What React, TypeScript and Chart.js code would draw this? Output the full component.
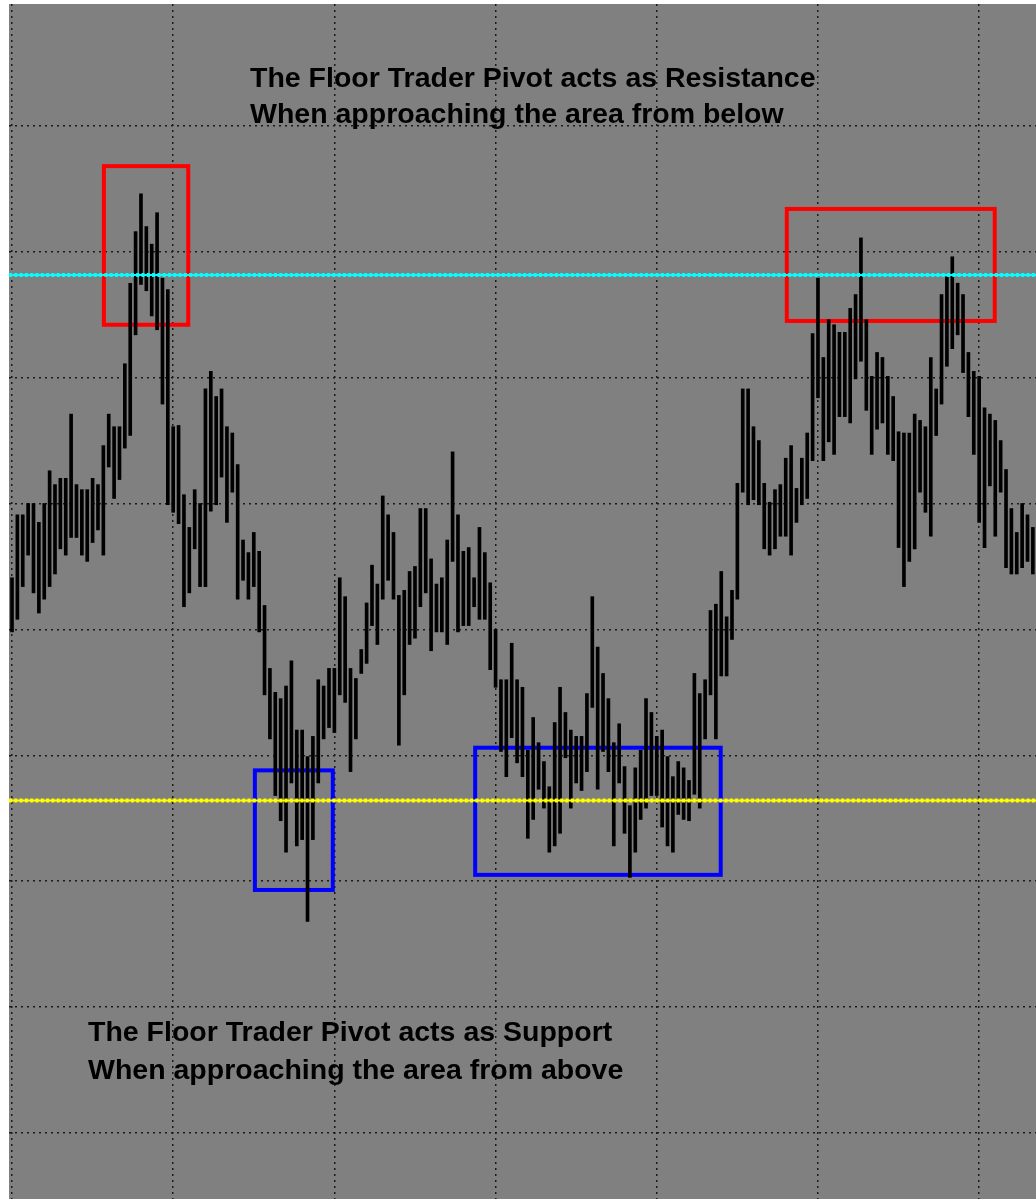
import React, { useEffect, useRef } from 'react';
import { Chart, registerables } from 'chart.js';

Chart.register(...registerables);

// ---- data (price units, grid every 10) ----
const barHighs = [
  54.1, 59.1, 59.1, 60.0, 60.0, 58.5, 60.0, 62.6, 61.5, 62.0,
  62.0, 67.1, 61.5, 61.1, 61.1, 62.0, 61.5, 64.6, 67.1, 66.1,
  66.1, 71.1, 77.5, 81.6, 84.6, 82.0, 80.6, 83.1, 77.9, 77.0,
  66.1, 66.2, 60.7, 58.1, 61.1, 60.0, 69.1, 70.5, 68.5, 69.1,
  66.1, 65.6, 63.1, 57.1, 56.1, 57.7, 56.2, 51.9, 46.9, 45.0,
  44.5, 45.5, 47.5, 42.0, 42.0, 39.9, 41.5, 46.0, 45.5, 46.9,
  46.9, 54.1, 52.6, 46.9, 46.1, 48.4, 52.1, 55.1, 53.6, 60.6,
  59.1, 57.7, 52.7, 53.1, 54.6, 55.0, 59.6, 59.6, 55.6, 53.6,
  54.1, 57.1, 64.1, 59.1, 56.2, 56.5, 54.1, 58.1, 56.1, 53.7,
  50.0, 46.0, 46.0, 48.9, 46.0, 45.4, 40.4, 43.0, 41.0, 39.5,
  37.5, 42.6, 45.4, 43.4, 42.0, 41.5, 41.5, 44.9, 52.6, 48.6,
  46.5, 44.5, 41.0, 42.5, 39.1, 36.0, 39.0, 40.4, 44.5, 43.4,
  41.5, 42.0, 39.9, 38.3, 39.5, 39.0, 38.0, 46.5, 44.9, 46.0,
  51.5, 52.0, 54.6, 51.0, 53.1, 61.6, 69.1, 69.1, 66.1, 65.0,
  61.6, 60.1, 61.1, 61.5, 63.6, 64.6, 61.2, 63.6, 65.6, 73.5,
  77.9, 71.6, 74.6, 74.2, 73.6, 73.6, 75.5, 76.6, 81.1, 74.6,
  70.1, 72.0, 71.6, 70.1, 68.5, 65.7, 65.6, 65.6, 67.1, 66.6,
  66.1, 71.6, 69.1, 76.6, 78.0, 79.6, 77.5, 76.6, 72.0, 70.5,
  70.1, 67.6, 67.1, 66.6, 65.0, 62.7, 59.6, 57.7, 60.0, 59.1,
  58.1,
];

const barLows = [
  49.8, 50.8, 53.4, 55.9, 52.9, 51.3, 52.4, 53.4, 54.4, 56.4,
  55.9, 57.3, 57.3, 55.9, 55.4, 56.9, 57.9, 55.9, 62.9, 60.4,
  61.9, 64.4, 65.4, 73.4, 77.4, 76.9, 74.9, 73.8, 67.9, 59.9,
  59.3, 58.4, 51.8, 52.9, 56.4, 53.4, 53.4, 59.4, 59.9, 62.1,
  58.5, 60.9, 52.4, 53.9, 52.4, 53.4, 49.8, 44.8, 41.3, 36.8,
  34.8, 32.3, 37.8, 32.8, 33.3, 26.8, 33.3, 37.8, 41.3, 42.2,
  41.8, 44.8, 44.2, 38.7, 41.3, 46.5, 47.3, 50.3, 48.8, 52.4,
  53.9, 52.4, 40.8, 44.8, 48.8, 49.3, 51.8, 52.9, 48.3, 49.8,
  49.8, 48.8, 55.4, 49.8, 50.3, 50.3, 51.8, 50.8, 50.8, 46.8,
  45.4, 40.3, 38.3, 41.4, 39.4, 38.3, 33.4, 34.9, 37.3, 35.8,
  32.3, 32.8, 33.8, 39.8, 35.8, 37.8, 37.2, 38.7, 43.8, 37.3,
  40.3, 38.7, 32.8, 37.8, 33.8, 30.3, 32.3, 34.9, 35.8, 36.8,
  36.8, 34.3, 32.8, 32.3, 35.3, 34.9, 34.8, 36.9, 35.8, 41.3,
  44.8, 41.3, 46.3, 46.3, 49.2, 52.4, 60.9, 59.9, 60.3, 59.9,
  56.4, 55.9, 56.4, 57.4, 57.4, 55.9, 58.5, 59.9, 60.4, 63.4,
  68.4, 63.4, 64.9, 63.9, 66.9, 66.9, 66.4, 69.9, 71.3, 67.4,
  63.9, 65.9, 66.4, 63.9, 63.4, 56.5, 53.4, 55.4, 56.4, 60.9,
  59.3, 57.4, 65.4, 67.9, 70.9, 72.3, 73.4, 70.4, 66.9, 63.9,
  58.5, 56.5, 61.4, 57.4, 60.9, 54.9, 54.4, 54.4, 54.9, 55.4,
  54.4,
];

const xGridTicks = [0, 30, 60, 90, 120, 150, 180];
const yGridTicks = [10, 20, 30, 40, 50, 60, 70, 80, 90];

const resistancePivot = 78.15;
const supportPivot = 36.4;

// highlight boxes (bar index range, price range)
const boxStart = [17.1, 144.2, 45.2, 86.2];
const boxEnd = [32.8, 182.9, 59.7, 131.9];
const boxTop = [86.8, 83.4, 38.8, 40.6];
const boxBottom = [74.2, 74.5, 29.3, 30.5];
const boxColors = ['#FF0000', '#FF0000', '#0000FF', '#0000FF'];

// notes: anchor bar index, baseline price
const noteLines = [
  'The Floor Trader Pivot acts as Resistance',
  'When approaching the area from below',
  'The Floor Trader Pivot acts as Support',
  'When approaching the area from above',
];
const noteX = [44.3, 44.3, 14.15, 14.15];
const noteY = [93.09, 90.23, 17.3, 14.28];

const X_MIN = -0.56;
const X_MAX = 190.58;
const Y_MIN = 4.75;
const Y_MAX = 99.68;

const decorPlugin = {
  id: 'decor',
  beforeDraw(chart: any) {
    const { ctx } = chart;
    ctx.save();
    ctx.fillStyle = '#808080';
    ctx.fillRect(0, 0, chart.width, chart.height);
    ctx.restore();
  },
  beforeDatasetsDraw(chart: any) {
    const { ctx } = chart;
    const xs = chart.scales.x;
    const ys = chart.scales.y;
    ctx.save();
    ctx.lineWidth = 4;
    for (let i = 0; i < boxStart.length; i++) {
      const x0 = xs.getPixelForValue(boxStart[i]);
      const x1 = xs.getPixelForValue(boxEnd[i]);
      const y0 = ys.getPixelForValue(boxTop[i]);
      const y1 = ys.getPixelForValue(boxBottom[i]);
      ctx.strokeStyle = boxColors[i];
      ctx.strokeRect(x0, y0, x1 - x0, y1 - y0);
    }
    ctx.restore();
  },
  afterDraw(chart: any) {
    const { ctx } = chart;
    const xs = chart.scales.x;
    const ys = chart.scales.y;
    ctx.save();
    ctx.fillStyle = '#000000';
    ctx.font = 'bold 28.5px "Liberation Sans", Arial, sans-serif';
    ctx.textBaseline = 'alphabetic';
    ctx.textAlign = 'left';
    for (let i = 0; i < noteLines.length; i++) {
      ctx.fillText(noteLines[i], xs.getPixelForValue(noteX[i]), ys.getPixelForValue(noteY[i]));
    }
    ctx.restore();
  },
};

function pivotLine(level: number, color: string, dash: number[] | null, width: number) {
  return {
    type: 'line' as const,
    data: [
      { x: X_MIN, y: level },
      { x: X_MAX, y: level },
    ],
    borderColor: color,
    borderWidth: width,
    borderDash: dash || [],
    pointRadius: 0,
    fill: false,
    order: 0,
  };
}

export default function App() {
  const canvasRef = useRef<HTMLCanvasElement | null>(null);

  useEffect(() => {
    const canvas = canvasRef.current;
    if (!canvas) return;
    const bars = barHighs.map((h, i) => ({ x: i, y: [barLows[i], h] }));
    const chart = new Chart(canvas, {
      type: 'bar',
      data: {
        datasets: [
          {
            type: 'bar',
            data: bars as any,
            backgroundColor: '#000000',
            borderWidth: 0,
            barThickness: 3,
            order: 1,
          } as any,
          pivotLine(resistancePivot, '#00FFFF', null, 2) as any,
          pivotLine(resistancePivot, '#00FFFF', [3, 2.3], 4) as any,
          pivotLine(supportPivot, '#FFFF00', null, 2) as any,
          pivotLine(supportPivot, '#FFFF00', [3, 2.3], 4) as any,
        ],
      },
      options: {
        responsive: false,
        animation: false,
        devicePixelRatio: 1,
        layout: { padding: 0 },
        plugins: {
          legend: { display: false },
          tooltip: { enabled: false },
          title: { display: false },
        },
        scales: {
          x: {
            type: 'linear',
            min: X_MIN,
            max: X_MAX,
            offset: false,
            afterBuildTicks: (scale: any) => {
              scale.ticks = xGridTicks.map((v) => ({ value: v }));
            },
            ticks: { display: false },
            grid: { color: '#1a1a1a', lineWidth: 1.5, drawTicks: false, offset: false },
            border: { display: false, dash: [2, 4] },
          },
          y: {
            type: 'linear',
            min: Y_MIN,
            max: Y_MAX,
            afterBuildTicks: (scale: any) => {
              scale.ticks = yGridTicks.map((v) => ({ value: v }));
            },
            ticks: { display: false },
            grid: { color: '#1a1a1a', lineWidth: 1.5, drawTicks: false },
            border: { display: false, dash: [2, 4] },
          },
        },
      } as any,
      plugins: [decorPlugin],
    });
    return () => chart.destroy();
  }, []);

  return (
    <div
      style={{
        position: 'absolute',
        left: 0,
        top: 0,
        width: 1036,
        height: 1199,
        background: '#ffffff',
        overflow: 'hidden',
      }}
    >
      <canvas
        ref={canvasRef}
        width={1027}
        height={1195}
        style={{ position: 'absolute', left: 9, top: 4, width: 1027, height: 1195 }}
      />
    </div>
  );
}
